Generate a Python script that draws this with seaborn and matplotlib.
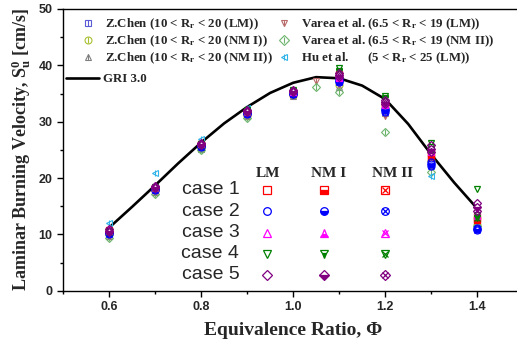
import matplotlib
matplotlib.use("Agg")
import numpy as np
import matplotlib.pyplot as plt
import seaborn as sns
from matplotlib.lines import Line2D
from matplotlib.ticker import MultipleLocator

# ---- data ----
phi = [0.6, 0.7, 0.8, 0.9, 1.0, 1.1, 1.2, 1.3, 1.4]

gri_phi = [0.60, 0.65, 0.70, 0.75, 0.80, 0.85, 0.90, 0.95, 1.00,
           1.05, 1.10, 1.15, 1.20, 1.25, 1.30, 1.35, 1.40]
gri_su = [11.2, 14.9, 18.7, 22.6, 26.3, 29.7, 32.6, 35.1, 36.9,
          37.9, 37.7, 36.4, 34.0, 29.6, 24.2, 19.2, 14.6]

chen_lm = [10.3, 18.0, 25.6, 31.4, 35.0, 37.0, 32.5, 23.5, 12.0]
chen_nm1 = [10.0, 17.8, 25.4, 31.2, 34.8, 36.5, 32.0, 23.0, 11.6]
chen_nm2 = [9.8, 17.5, 25.2, 31.0, 34.6, 36.2, 31.5, 22.5, 11.3]

varea_phi = [0.6, 0.7, 0.8, 0.9, 1.05, 1.1, 1.2, 1.3, 1.4]
varea_lm = [9.6, 17.4, 25.3, 30.8, 37.2, 36.5, 31.0, 22.0, 11.8]
varea_nm2 = [9.4, 17.2, 25.0, 30.6, 36.2, 35.2, 28.2, 21.0, 11.5]

hu_lm = [12.0, 20.9, 27.0, 32.4, 35.2, 37.8, 32.0, 20.3, 11.0]

case_lm = [
    [10.8, 18.3, 26.0, 31.8, 35.3, 38.5, 33.2, 24.5, 13.2],
    [10.4, 18.2, 25.8, 31.6, 35.2, 37.5, 32.2, 22.8, 11.2],
    [11.0, 18.5, 26.2, 32.0, 35.5, 38.2, 33.5, 25.3, 14.0],
    [10.6, 18.4, 26.1, 32.0, 35.6, 39.5, 34.6, 26.2, 18.0],
    [10.9, 18.6, 26.3, 32.1, 35.6, 38.6, 33.8, 25.8, 15.5],
]
case_nm1 = [
    [10.6, 18.1, 25.9, 31.6, 35.1, 38.0, 33.0, 24.0, 12.8],
    [10.2, 18.0, 25.7, 31.5, 35.0, 37.2, 32.0, 22.5, 11.0],
    [10.9, 18.4, 26.1, 31.9, 35.4, 38.0, 33.3, 25.0, 13.6],
    [10.5, 18.3, 26.0, 31.9, 35.5, 39.0, 34.2, 25.5, 13.5],
    [10.7, 18.4, 26.1, 31.9, 35.4, 38.3, 33.5, 25.2, 14.8],
]
case_nm2 = [
    [10.5, 18.0, 25.8, 31.5, 35.0, 37.8, 32.8, 23.6, 12.5],
    [10.1, 17.9, 25.6, 31.4, 34.9, 37.0, 31.8, 22.2, 10.8],
    [10.7, 18.3, 26.0, 31.8, 35.3, 37.8, 33.0, 24.6, 13.2],
    [10.4, 18.2, 25.9, 31.8, 35.4, 38.8, 34.0, 25.0, 13.0],
    [10.5, 18.2, 25.9, 31.7, 35.2, 38.0, 33.2, 24.7, 14.2],
]
case_names = ["case 1", "case 2", "case 3", "case 4", "case 5"]
case_colors = ["#ff0000", "#0000ff", "#ff00ff", "#008000", "#800080"]
case_markers = ["s", "o", "^", "v", "D"]
col_names = ["LM", "NM I", "NM II"]

sns.set_theme(style="ticks")
plt.rcParams["font.family"] = ["Liberation Serif", "DejaVu Serif"]
plt.rcParams["mathtext.fontset"] = "custom"
plt.rcParams["mathtext.rm"] = "Liberation Serif:bold"
plt.rcParams["mathtext.it"] = "Liberation Serif:bold"
plt.rcParams["mathtext.bf"] = "Liberation Serif:bold"

serif_bold = {"family": "Liberation Serif", "weight": "bold"}

fig = plt.figure(figsize=(5.17, 3.43), dpi=100)
ax = fig.add_axes([0.122, 0.152, 0.89, 0.822])

MS = 5


def draw(ax, x, y, color, marker, kind, ms=MS, **kw):
    if marker == "D":
        ms = ms * 0.85
    if kind == "LM":
        ax.plot(x, y, ls="none", marker=marker, ms=ms, mfc="none",
                mec=color, mew=0.9, zorder=3, **kw)
    elif kind == "NM I":
        ax.plot(x, y, ls="none", marker=marker, ms=ms, mfc=color,
                mfcalt="white", fillstyle="bottom", mec=color, mew=0.9,
                zorder=3, **kw)
    elif kind == "NM II":
        ax.plot(x, y, ls="none", marker=marker, ms=ms, mfc="none",
                mec=color, mew=0.9, zorder=3, **kw)
        ax.plot(x, y, ls="none", marker="x", ms=ms * 0.8, mec=color,
                mew=0.9, zorder=3, **kw)
    else:  # literature: open marker with a vertical bar
        ax.plot(x, y, ls="none", marker=marker, ms=ms, mfc="none",
                mec=color, mew=0.8, zorder=3, **kw)
        ax.plot(x, y, ls="none", marker="|", ms=ms, mec=color,
                mew=0.8, zorder=3, **kw)


# GRI 3.0 curve
sns.lineplot(x=gri_phi, y=gri_su, color="black", lw=1.9, ax=ax, zorder=2)

# literature data
lit = [
    (phi, chen_lm, "#5a5ad6", "s", "Z.Chen (10 < R$_\\mathrm{r}$ < 20 (LM))"),
    (phi, chen_nm1, "#a8c030", "o", "Z.Chen (10 < R$_\\mathrm{r}$ < 20 (NM I))"),
    (phi, chen_nm2, "#808080", "^", "Z.Chen (10 < R$_\\mathrm{r}$ < 20 (NM II))"),
    (varea_phi, varea_lm, "#b86a6a", "v", "Varea et al. (6.5 < R$_\\mathrm{r}$ < 19 (LM))"),
    (varea_phi, varea_nm2, "#6cb46c", "D", "Varea et al. (6.5 < R$_\\mathrm{r}$ < 19 (NM II))"),
    (phi, hu_lm, "#30b4e8", "<", "Hu et al.      (5 < R$_\\mathrm{r}$ < 25 (LM))"),
]
for xs, ys, c, m, lab in lit:
    draw(ax, xs, ys, c, m, "lit")

# present cases
for i in range(5):
    for kind, vals in zip(col_names, [case_lm, case_nm1, case_nm2]):
        draw(ax, phi, vals[i], case_colors[i], case_markers[i], kind)

# legend for literature data
handles = []
for xs, ys, c, m, lab in lit:
    handles.append((Line2D([], [], ls="none", marker=m, ms=MS, mfc="none", mec=c, mew=0.8),
                    Line2D([], [], ls="none", marker="|", ms=MS, mec=c, mew=0.8)))
labels = [t[4] for t in lit]
leg1 = ax.legend(handles, labels, ncol=2, loc="upper left",
                 bbox_to_anchor=(0.035, 0.972), frameon=False, borderpad=0,
                 borderaxespad=0, handlelength=1.4, handletextpad=0.6,
                 columnspacing=0.15, labelspacing=0.12,
                 prop={"family": "Liberation Serif", "weight": "bold", "size": 9.3})
ax.add_artist(leg1)
gri_handle = Line2D([], [], color="black", lw=1.9)
ax.legend([gri_handle], ["GRI 3.0"], loc="upper left",
          bbox_to_anchor=(0.006, 0.772), frameon=False, borderpad=0,
          borderaxespad=0, handlelength=2.6, handletextpad=0.3,
          prop={"family": "Liberation Serif", "weight": "bold", "size": 9.3})

# case key table (axes fraction)
col_x = [0.444, 0.566, 0.700]
head_x = [0.445, 0.578, 0.717]
row_y = [0.358, 0.282, 0.207, 0.132, 0.058]
for j, name in enumerate(col_names):
    ax.text(head_x[j], 0.415, name, transform=ax.transAxes, ha="center",
            va="center", fontsize=11, **serif_bold)
for i in range(5):
    ax.text(0.383, row_y[i], case_names[i], transform=ax.transAxes,
            ha="right", va="center", fontsize=14, family="Liberation Sans")
    for j, kind in enumerate(col_names):
        draw(ax, [col_x[j]], [row_y[i]], case_colors[i], case_markers[i],
             kind, ms=5.5, transform=ax.transAxes, clip_on=False)

ax.set_xlim(0.5, 1.5)
ax.set_ylim(0, 50)
ax.xaxis.set_major_locator(MultipleLocator(0.2))
ax.xaxis.set_minor_locator(MultipleLocator(0.1))
ax.yaxis.set_major_locator(MultipleLocator(10))
ax.yaxis.set_minor_locator(MultipleLocator(5))
ax.set_xticks([0.6, 0.8, 1.0, 1.2, 1.4])
ax.set_xticklabels(["0.6", "0.8", "1.0", "1.2", "1.4"])
ax.tick_params(which="major", direction="out", length=4, width=1, color="black")
ax.tick_params(which="minor", direction="out", length=2.5, width=1, color="black")
ax.tick_params(top=False, right=False, which="both")
for lab in ax.get_xticklabels() + ax.get_yticklabels():
    lab.set_family("Liberation Sans")
    lab.set_weight("bold")
    lab.set_fontsize(9)
for s in ax.spines.values():
    s.set_color("black")
    s.set_linewidth(1.0)

ax.set_xlabel("Equivalence Ratio, \u03a6", fontsize=14, labelpad=6, **serif_bold)
ax.set_ylabel("Laminar Burning Velocity, S$_\\mathrm{u}^\\mathrm{0}$ [cm/s]",
              fontsize=13, labelpad=4, **serif_bold)

fig.savefig("out.png", dpi=100)
